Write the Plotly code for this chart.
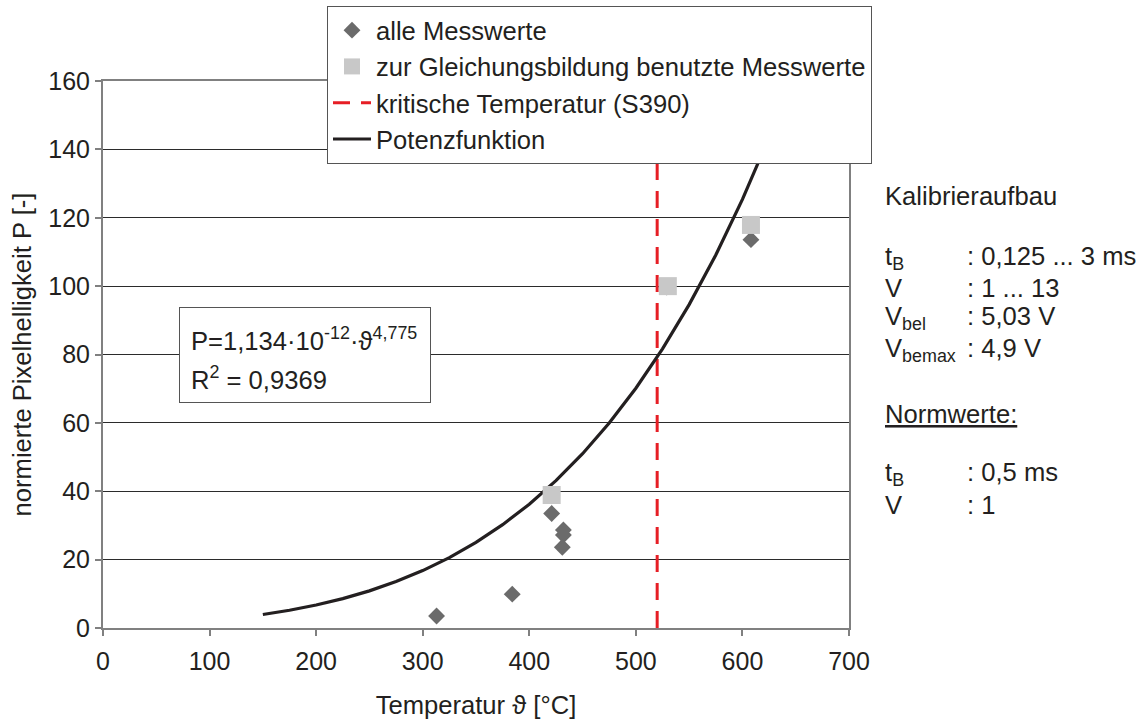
import plotly.graph_objects as go

# Messwerte (Temperatur in °C, normierte Pixelhelligkeit)
alle_T = [313, 384, 421, 432, 432, 431, 421, 529, 608]
alle_P = [3.5, 9.9, 33.5, 28.7, 27.2, 23.6, 38.7, 99.7, 113.6]

# zur Gleichungsbildung benutzte Messwerte
sel_T = [421, 530, 608]
sel_P = [38.9, 100.0, 117.9]

# Potenzfunktion (Stützstellen der Trendlinie)
pot_T = [150, 175, 200, 225, 250, 275, 300, 325, 350, 375, 400,
         425, 450, 475, 500, 525, 550, 575, 600, 625, 650]
pot_P = [3.94, 5.19, 6.72, 8.60, 10.86, 13.58, 16.80, 20.59, 25.04, 30.22, 36.20,
         43.09, 50.97, 59.95, 70.14, 81.65, 94.60, 109.13, 125.38, 143.47, 163.56]

# kritische Temperatur S390
krit_T = [520, 520]
krit_P = [0, 160]

x_ticks = [0, 100, 200, 300, 400, 500, 600, 700]
y_ticks = [0, 20, 40, 60, 80, 100, 120, 140, 160]

FONT = "Liberation Sans, Arial, sans-serif"
TXT = "#231f20"
FS = 25.6

fig = go.Figure()

fig.add_trace(go.Scatter(
    x=krit_T, y=krit_P, mode="lines", name="kritische Temperatur (S390)",
    line=dict(color="#e61e25", width=3, dash="17px,11px"), legendrank=3))

fig.add_trace(go.Scatter(
    x=pot_T, y=pot_P, mode="lines", name="Potenzfunktion",
    line=dict(color="#231f20", width=3.2), legendrank=4))

fig.add_trace(go.Scatter(
    x=alle_T, y=alle_P, mode="markers", name="alle Messwerte",
    marker=dict(symbol="diamond", size=13, color="#6b6b6b", line=dict(width=0)),
    legendrank=1))

fig.add_trace(go.Scatter(
    x=sel_T, y=sel_P, mode="markers", name="zur Gleichungsbildung benutzte Messwerte",
    marker=dict(symbol="square", size=18, color="#c8c8c8", line=dict(width=0)),
    legendrank=2))

axis_common = dict(
    showline=True, linecolor="#808080", linewidth=2, mirror=True,
    ticks="outside", ticklen=6, tickcolor="#808080", tickwidth=1.5,
    tickfont=dict(family=FONT, size=25, color=TXT), zeroline=False,
    automargin=False,
)

fig.update_xaxes(
    range=[0, 700], tickvals=x_ticks, showgrid=False, ticklabelstandoff=4,
    title=dict(text="Temperatur ϑ [°C]", font=dict(family=FONT, size=FS, color=TXT), standoff=22),
    **axis_common)
fig.update_yaxes(
    range=[0, 160], tickvals=y_ticks, showgrid=True, gridcolor="#2b2b2b", gridwidth=1,
    title=dict(text="normierte Pixelhelligkeit P [-]", font=dict(family=FONT, size=FS, color=TXT), standoff=9),
    **axis_common)

# Formelkasten
fig.add_annotation(
    x=189.5, y=80.0, xref="x", yref="y", text=" ", showarrow=False,
    width=236, height=80, bgcolor="white", bordercolor="#555555", borderwidth=1, borderpad=7)
fig.add_annotation(
    x=80.5, y=84.6, xref="x", yref="y", xanchor="left", showarrow=False,
    text="P=1,134·10<sup>-12</sup>·ϑ<sup>4,775</sup>",
    font=dict(family=FONT, size=FS, color=TXT))
fig.add_annotation(
    x=80.5, y=73.0, xref="x", yref="y", xanchor="left", showarrow=False,
    text="R<sup>2</sup> = 0,9369",
    font=dict(family=FONT, size=FS, color=TXT))

# Textblock rechts
PW, PH, L, B = 746, 547, 103, 628


def px(xp):
    return (xp - L) / PW


def py(yp):
    return (B - yp) / PH


right_rows = [
    ("Kalibrieraufbau", None, 196),
    ("t<sub>B</sub>", ": 0,125 ... 3 ms", 256),
    ("V", ": 1 ... 13", 288),
    ("V<sub>bel</sub>", ": 5,03 V", 316),
    ("V<sub>bemax</sub>", ": 4,9 V", 348),
    ("<u>Normwerte:</u>", None, 414),
    ("t<sub>B</sub>", ": 0,5 ms", 472),
    ("V", ": 1", 505),
]
for label, value, yc in right_rows:
    fig.add_annotation(
        x=px(883), y=py(yc - 16), xref="paper", yref="paper", xanchor="left", yanchor="top",
        text=label, showarrow=False, font=dict(family=FONT, size=FS, color=TXT))
    if value:
        fig.add_annotation(
            x=px(965), y=py(yc - 16), xref="paper", yref="paper", xanchor="left", yanchor="top",
            text=value, showarrow=False, font=dict(family=FONT, size=FS, color=TXT))

fig.update_layout(
    width=1141, height=720,
    margin=dict(l=103, r=292, t=81, b=92, autoexpand=False),
    paper_bgcolor="white", plot_bgcolor="white",
    font=dict(family=FONT, size=FS, color=TXT),
    showlegend=True,
    legend=dict(
        x=px(327), y=py(6), xanchor="left", yanchor="top",
        bgcolor="white", bordercolor="#555555", borderwidth=1,
        font=dict(family=FONT, size=FS, color=TXT),
        itemwidth=38, tracegroupgap=0,
    ),
)

fig.write_html("out.html")
